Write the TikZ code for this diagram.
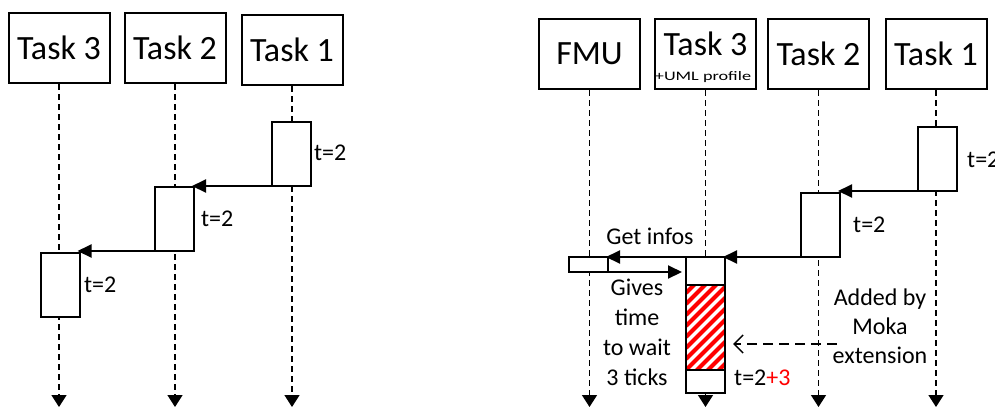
\documentclass[tikz,border=0pt]{standalone}
\usepackage{fontspec}
\setmainfont{Carlito}
\usetikzlibrary{positioning,arrows.meta}

\begin{document}
\begin{tikzpicture}[x=1pt,y=-1pt,
    task/.style={draw,line width=2pt,minimum width=101pt,minimum height=70pt,inner sep=0pt,font=\fontsize{34}{34}\selectfont},
    act/.style={draw,fill=white,line width=2pt,minimum width=39pt,minimum height=64pt,inner sep=0pt,outer sep=0pt},
    life/.style={line width=1.5pt,dash pattern=on 6pt off 4pt,-{Triangle[length=12pt,width=15pt]}},
    msg/.style={line width=2pt,shorten >=-2pt,-{Triangle[length=14pt,width=13pt]}},
    note/.style={line width=1.5pt,dash pattern=on 10pt off 6pt,shorten >=8pt,-{Straight Barb[length=9pt,width=18pt]}},
    lbl/.style={font=\fontsize{24}{30}\selectfont,inner sep=1pt,align=center}]
  \useasboundingbox (0,0) rectangle (995,408);

  \node[task] (lt3) at (59,48) {Task 3};
  \node[task] (lt2) at (175,48) {Task 2};
  \node[task] (lt1) at (292,50) {Task 1};
  \coordinate (le3) at (59,407);
  \coordinate (le2) at (175,407);
  \coordinate (le1) at (292,407);
  \draw[life] (lt3) -- (le3);
  \draw[life] (lt2) -- (le2);
  \draw[life] (lt1) -- (le1);

  \node[act] (la1) at (291.5,154) {};
  \node[act] (la2) at (174.5,219) {};
  \node[act] (la3) at (60,285) {};
  \draw[msg] (la1.south west) -- (la1.south west -| la2.east);
  \draw[msg] (la2.south west) -- (la2.south west -| la3.east);
  \node[lbl,anchor=west] (la1t) at (313,153) {t=2};
  \node[lbl,anchor=west] (la2t) at (200,219) {t=2};
  \node[lbl,anchor=west] (la3t) at (83,285) {t=2};

  \node[task] (fmu) at (589.5,54) {FMU};
  \node[task] (rt3) at (705.5,54) {};
  \node[font=\fontsize{34}{34}\selectfont,inner sep=0pt] (rt3name) at (705.5,44) {Task 3};
  \node[inner sep=0pt] (rt3prof) at (703,77.5) {\scalebox{1.4}[1]{\fontsize{13}{13}\selectfont +UML profile}};
  \node[task] (rt2) at (818.5,54) {Task 2};
  \node[task] (rt1) at (936,54) {Task 1};
  \coordinate (re0) at (589.5,407);
  \coordinate (re3) at (705.5,407);
  \coordinate (re2) at (818.5,407);
  \coordinate (re1) at (936,407);
  \draw[life] (fmu) -- (re0);
  \draw[life] (rt3) -- (re3);
  \draw[life] (rt2) -- (re2);
  \draw[life] (rt1) -- (re1);

  \node[act] (ra1) at (937,159) {};
  \node[act] (ra2) at (820.5,225) {};
  \node[act,minimum height=15pt] (fa) at (588.5,264.5) {};
  \node[act,minimum height=28pt] (ra3top) at (705.5,271) {};
  \node[act,minimum height=85pt,below=0pt of ra3top,path picture={
      \foreach \k in {-4,...,8}
        \draw[red,line width=4pt] ([yshift=\k*11pt]path picture bounding box.south west) -- ++(60pt,60pt);
    }] (ra3wait) {};
  \node[act,minimum height=23pt,below=0pt of ra3wait] (ra3bot) {};

  \draw[msg] (ra1.south west) -- (ra1.south west -| ra2.east);
  \draw[msg] (ra2.south west) -- (ra2.south west -| ra3top.east);
  \draw[msg] (ra3top.north west) -- (fa.north east);
  \draw[msg,shorten >=4pt] (fa.south east) -- (fa.south east -| ra3top.west);
  \coordinate (moka) at (837,344);
  \draw[note] (moka) -- (moka -| ra3wait.east);

  \node[lbl,anchor=west] (ra1t) at (966,160) {t=2};
  \node[lbl,anchor=west] (ra2t) at (852,225) {t=2};
  \node[lbl] (getinfo) at (650,236) {Get infos};
  \node[lbl] (gives) at (637,332) {Gives\\time\\to wait\\3 ticks};
  \node[lbl,anchor=west] (ra3t) at (733,378) {t=2{\color{red}+3}};
  \node[lbl,font=\fontsize{24}{29}\selectfont] (mokat) at (880,326) {Added by\\Moka\\extension};
\end{tikzpicture}
\end{document}
